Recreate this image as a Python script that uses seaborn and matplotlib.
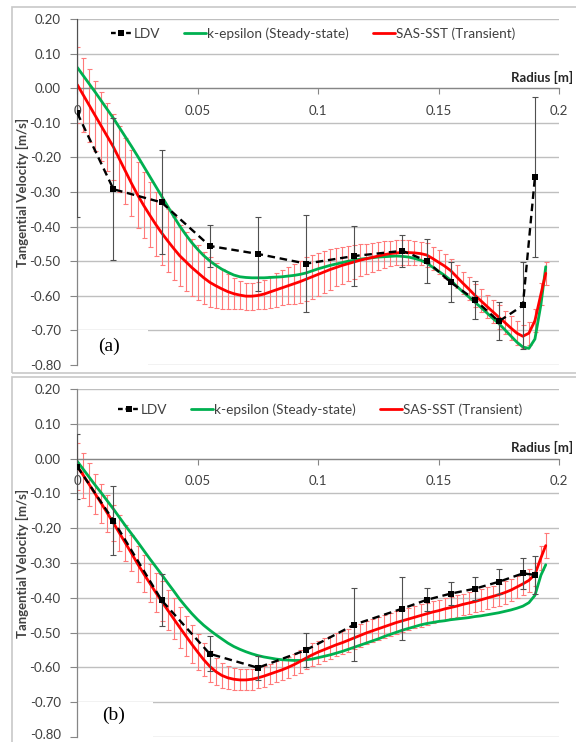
import numpy as np
import pandas as pd
import matplotlib
matplotlib.use("Agg")
import matplotlib.pyplot as plt
import matplotlib.transforms as mtransforms
from matplotlib.patches import Rectangle
from matplotlib.lines import Line2D
import seaborn as sns

sns.set_style("white")
plt.rcParams["font.family"] = ["Lato", "DejaVu Sans"]

# ---------------- data ----------------
# LDV measurement radii [m]
r_ldv = [0.0, 0.015, 0.035, 0.055, 0.075, 0.095, 0.115, 0.135, 0.145, 0.155, 0.165, 0.175, 0.185, 0.19]

# Panel (a)
ldv_a = [-0.072, -0.292, -0.330, -0.456, -0.479, -0.507, -0.485, -0.470, -0.499, -0.561, -0.611, -0.674, -0.628, -0.257]
ldv_a_err = [0.30, 0.205, 0.15, 0.06, 0.107, 0.14, 0.088, 0.046, 0.063, 0.058, 0.055, 0.055, 0.127, 0.232]

# Panel (b)
ldv_b = [-0.023, -0.178, -0.407, -0.561, -0.601, -0.550, -0.477, -0.431, -0.406, -0.388, -0.374, -0.354, -0.330, -0.334]
ldv_b_err = [0.093, 0.10, 0.075, 0.05, 0.035, 0.05, 0.106, 0.09, 0.033, 0.033, 0.033, 0.036, 0.044, 0.054]

# CFD sample radii [m]
r_cfd = list(np.round(np.arange(0.0, 0.19251, 0.0025), 4)) + [0.1945]

keps_a = [0.060, 0.036, 0.012, -0.012, -0.037, -0.062, -0.087, -0.114, -0.141, -0.168,
          -0.196, -0.225, -0.254, -0.283, -0.312, -0.341, -0.370, -0.398, -0.423, -0.446,
          -0.466, -0.484, -0.499, -0.512, -0.523, -0.532, -0.540, -0.545, -0.547, -0.548,
          -0.548, -0.548, -0.547, -0.546, -0.545, -0.543, -0.541, -0.538, -0.534, -0.528,
          -0.522, -0.517, -0.512, -0.508, -0.504, -0.500, -0.497, -0.494, -0.492, -0.490,
          -0.488, -0.487, -0.486, -0.485, -0.486, -0.488, -0.492, -0.497, -0.505, -0.517,
          -0.529, -0.541, -0.555, -0.572, -0.588, -0.603, -0.618, -0.633, -0.649, -0.665,
          -0.680, -0.698, -0.716, -0.734, -0.748, -0.752, -0.725, -0.625, -0.516]

sas_a = [0.010, -0.020, -0.050, -0.080, -0.110, -0.140, -0.170, -0.205, -0.240, -0.275,
         -0.308, -0.338, -0.366, -0.393, -0.418, -0.441, -0.463, -0.484, -0.501, -0.518,
         -0.533, -0.548, -0.561, -0.571, -0.580, -0.588, -0.594, -0.598, -0.601, -0.601,
         -0.599, -0.595, -0.589, -0.583, -0.577, -0.571, -0.565, -0.559, -0.552, -0.545,
         -0.538, -0.531, -0.524, -0.518, -0.512, -0.507, -0.502, -0.497, -0.493, -0.489,
         -0.485, -0.481, -0.478, -0.476, -0.475, -0.475, -0.476, -0.478, -0.482, -0.492,
         -0.503, -0.514, -0.527, -0.545, -0.563, -0.580, -0.598, -0.614, -0.630, -0.646,
         -0.662, -0.677, -0.693, -0.708, -0.717, -0.708, -0.672, -0.595, -0.535]

sas_a_err = [0.110, 0.108, 0.105, 0.102, 0.100, 0.098, 0.096, 0.095, 0.095, 0.095,
             0.095, 0.095, 0.094, 0.093, 0.092, 0.091, 0.090, 0.088, 0.086, 0.083,
             0.080, 0.076, 0.072, 0.065, 0.057, 0.050, 0.045, 0.041, 0.039, 0.039,
             0.040, 0.042, 0.045, 0.048, 0.051, 0.054, 0.058, 0.061, 0.063, 0.063,
             0.062, 0.060, 0.058, 0.055, 0.053, 0.050, 0.048, 0.046, 0.044, 0.042,
             0.040, 0.038, 0.037, 0.036, 0.035, 0.035, 0.034, 0.034, 0.034, 0.034,
             0.034, 0.034, 0.033, 0.033, 0.033, 0.033, 0.033, 0.033, 0.033, 0.034,
             0.034, 0.034, 0.034, 0.034, 0.034, 0.033, 0.033, 0.033, 0.034]

keps_b = [-0.008, -0.031, -0.054, -0.077, -0.099, -0.122, -0.145, -0.169, -0.193, -0.216,
          -0.239, -0.263, -0.287, -0.310, -0.333, -0.357, -0.380, -0.404, -0.425, -0.445,
          -0.463, -0.479, -0.493, -0.506, -0.518, -0.530, -0.540, -0.548, -0.555, -0.561,
          -0.566, -0.570, -0.573, -0.576, -0.578, -0.579, -0.580, -0.580, -0.578, -0.576,
          -0.572, -0.568, -0.564, -0.559, -0.554, -0.548, -0.542, -0.536, -0.530, -0.524,
          -0.518, -0.511, -0.505, -0.499, -0.493, -0.488, -0.483, -0.478, -0.474, -0.471,
          -0.468, -0.466, -0.463, -0.461, -0.459, -0.457, -0.454, -0.452, -0.449, -0.446,
          -0.443, -0.439, -0.435, -0.430, -0.424, -0.414, -0.393, -0.335, -0.305]

sas_b = [-0.022, -0.048, -0.075, -0.102, -0.129, -0.157, -0.185, -0.214, -0.243, -0.272,
         -0.302, -0.330, -0.357, -0.384, -0.410, -0.435, -0.460, -0.485, -0.509, -0.533,
         -0.556, -0.578, -0.597, -0.612, -0.623, -0.630, -0.634, -0.636, -0.636, -0.634,
         -0.630, -0.625, -0.619, -0.613, -0.607, -0.600, -0.592, -0.583, -0.573, -0.564,
         -0.556, -0.549, -0.542, -0.535, -0.529, -0.522, -0.515, -0.508, -0.501, -0.495,
         -0.489, -0.483, -0.477, -0.471, -0.466, -0.461, -0.456, -0.451, -0.446, -0.441,
         -0.437, -0.432, -0.428, -0.424, -0.419, -0.415, -0.411, -0.406, -0.401, -0.396,
         -0.391, -0.385, -0.378, -0.369, -0.360, -0.350, -0.333, -0.285, -0.250]

sas_b_err = [0.068, 0.065, 0.062, 0.058, 0.055, 0.053, 0.052, 0.052, 0.052, 0.052,
             0.052, 0.053, 0.055, 0.056, 0.057, 0.058, 0.058, 0.058, 0.057, 0.055,
             0.052, 0.048, 0.044, 0.040, 0.036, 0.033, 0.031, 0.030, 0.030, 0.030,
             0.030, 0.030, 0.030, 0.030, 0.030, 0.031, 0.031, 0.032, 0.032, 0.033,
             0.033, 0.033, 0.033, 0.033, 0.033, 0.033, 0.033, 0.033, 0.033, 0.033,
             0.033, 0.033, 0.032, 0.032, 0.032, 0.032, 0.032, 0.032, 0.031, 0.031,
             0.031, 0.031, 0.031, 0.031, 0.031, 0.031, 0.031, 0.031, 0.031, 0.031,
             0.032, 0.032, 0.032, 0.033, 0.033, 0.034, 0.034, 0.034, 0.035]

y_ticks = [0.20, 0.10, 0.00, -0.10, -0.20, -0.30, -0.40, -0.50, -0.60, -0.70, -0.80]
x_ticks = [0.0, 0.05, 0.1, 0.15, 0.2]
x_tick_labels = ["0", "0.05", "0.1", "0.15", "0.2"]
series_labels = ["LDV", "k-epsilon (Steady-state)", "SAS-SST (Transient)"]
panel_tags = ["(a)", "(b)"]

# ---------------- styling ----------------
C_GREEN = "#00b050"
C_RED = "#ff0000"
C_RED_ERR = "#ff7a7a"
C_GRID = "#bfbfbf"
C_AXIS = "#868686"
C_TEXT = "#404040"
FS = 9.5
FS_LEG = 9.8

W, H = 576.0, 742.0
fig = plt.figure(figsize=(W / 100, H / 100), dpi=100)
fig.patch.set_facecolor("white")

# chart-area frames
fig.add_artist(Rectangle((12 / W, 1 - 373 / H), 1.0, (373 - 7) / H, transform=fig.transFigure,
                         fill=False, ec="#c8c8c8", lw=1.2))
fig.add_artist(Rectangle((12 / W, -0.05), 1.0, (1 - 377 / H) + 0.05, transform=fig.transFigure,
                         fill=False, ec="#c8c8c8", lw=1.2))

X0, X1 = 77.3, 559.0


def draw_panel(top_px, bot_px, ldv, ldv_err, keps, sas, sas_err, tag, leg_center,
               box_w, tag_x, tag_y, lift_last=False):
    ax = fig.add_axes([X0 / W, 1 - bot_px / H, (X1 - X0) / W, (bot_px - top_px) / H])
    ax.set_facecolor("none")
    ax.set_axisbelow(True)

    # SAS-SST error bars
    ax.errorbar(r_cfd, sas, yerr=sas_err, fmt="none", ecolor=C_RED_ERR, elinewidth=0.8,
                capsize=1.8, capthick=0.8, zorder=2)
    df_cfd = pd.DataFrame({"r": r_cfd, "keps": keps, "sas": sas})
    sns.lineplot(data=df_cfd, x="r", y="keps", ax=ax, color=C_GREEN, lw=2.0,
                 estimator=None, sort=False, zorder=3)
    sns.lineplot(data=df_cfd, x="r", y="sas", ax=ax, color=C_RED, lw=2.0,
                 estimator=None, sort=False, zorder=4)

    # LDV
    ax.errorbar(r_ldv, ldv, yerr=ldv_err, fmt="none", ecolor="#505050", elinewidth=0.8,
                capsize=2.0, capthick=0.8, zorder=5)
    df_ldv = pd.DataFrame({"r": r_ldv, "v": ldv})
    sns.lineplot(data=df_ldv, x="r", y="v", ax=ax, color="black", lw=1.7, marker="s",
                 markersize=4.2, markeredgewidth=0, estimator=None, sort=False, zorder=6)
    ax.lines[-1].set_dashes((3.2, 2.0))

    ax.set_xlim(0, 0.2)
    ax.set_ylim(-0.8, 0.2)
    ax.set_yticks(y_ticks)
    ax.set_yticklabels([f"{v:.2f}" for v in y_ticks])
    ax.set_xticks(x_ticks)
    ax.set_xticklabels(x_tick_labels)
    ax.yaxis.grid(True, color=C_GRID, lw=1.0)
    ax.xaxis.grid(False)

    for s in ("top", "right"):
        ax.spines[s].set_visible(False)
    ax.spines["bottom"].set_position(("data", 0))
    ax.spines["bottom"].set_color(C_AXIS)
    ax.spines["left"].set_color(C_AXIS)
    ax.spines["bottom"].set_linewidth(0.9)
    ax.spines["left"].set_linewidth(0.9)
    ax.spines["left"].set_zorder(2.6)

    ax.tick_params(axis="y", direction="out", length=5, width=0.8, color=C_AXIS,
                   labelsize=FS, labelcolor=C_TEXT, pad=7, left=True)
    ax.tick_params(axis="x", direction="out", length=4, width=0.8, color=C_AXIS,
                   labelsize=FS, labelcolor=C_TEXT, pad=8, bottom=True)

    if lift_last:
        # keep the lowest label inside the picture edge
        lab = ax.get_yticklabels()[-1]
        lab.set_transform(lab.get_transform() +
                          mtransforms.ScaledTranslation(0, 2.5 / 72, fig.dpi_scale_trans))

    ax.set_xlabel("")
    ax.set_ylabel("Tangential Velocity [m/s]", fontsize=FS, fontweight="bold", color=C_TEXT)
    ax.yaxis.set_label_coords(-0.101, 0.5)

    trans = mtransforms.blended_transform_factory(ax.transAxes, ax.transData)
    ax.text(1.029, 0.019, "Radius [m]", transform=trans, ha="right", va="baseline",
            fontsize=FS, fontweight="bold", color="#262626")

    # white box with panel tag
    ax.add_patch(Rectangle((0.0018, -0.03), box_w, 0.13, transform=ax.transAxes,
                           facecolor="white", edgecolor="none", zorder=2.5, clip_on=False))
    ax.text(tag_x, tag_y, tag, transform=ax.transAxes, ha="left", va="center",
            fontsize=14, family="Liberation Serif", color="black", zorder=7)

    handles = [
        Line2D([], [], color="black", lw=1.7, dashes=(2.0, 1.2), marker="s", markersize=4.2,
               markeredgewidth=0),
        Line2D([], [], color=C_GREEN, lw=2.0),
        Line2D([], [], color=C_RED, lw=2.0),
    ]
    leg = ax.legend(handles, series_labels, loc="center", bbox_to_anchor=leg_center, ncol=3,
                    frameon=False, handlelength=1.6, handletextpad=0.1, columnspacing=1.75,
                    fontsize=FS_LEG, borderaxespad=0)
    for t in leg.get_texts():
        t.set_color(C_TEXT)
    return ax


draw_panel(19.0, 365.0, ldv_a, ldv_a_err, keps_a, sas_a, sas_a_err, panel_tags[0],
           (0.489, 0.957), 0.145, 0.043, 0.055)
draw_panel(389.0, 737.0, ldv_b, ldv_b_err, keps_b, sas_b, sas_b_err, panel_tags[1],
           (0.504, 0.94), 0.155, 0.051, 0.063, lift_last=True)

fig.savefig("out.png", dpi=100, facecolor="white")
